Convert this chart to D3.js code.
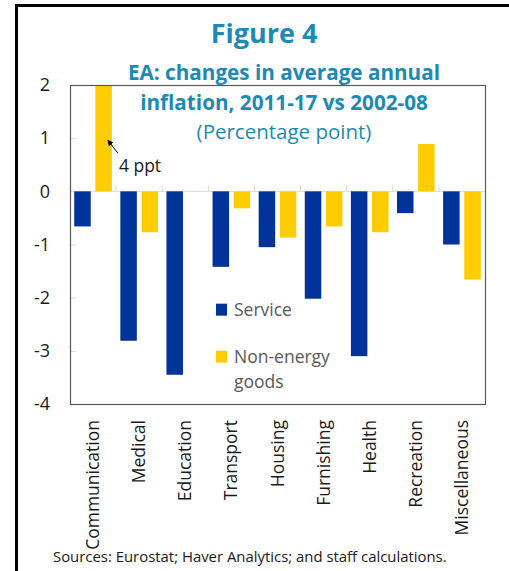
<!DOCTYPE html>
<html>
<head>
<meta charset="utf-8">
<script src="https://cdn.jsdelivr.net/npm/d3@7"></script>
<style>
  body { margin: 0; background: #fff; }
  svg { display: block; font-family: "Open Sans", sans-serif; }
</style>
</head>
<body>
<div id="chart"></div>
<script>
// data
var categories = ["Communication", "Medical", "Education", "Transport", "Housing",
                  "Furnishing", "Health", "Recreation", "Miscellaneous"];
var serviceValues = [-0.66, -2.81, -3.45, -1.42, -1.05, -2.02, -3.10, -0.41, -1.00];
var goodsValues = [4.0, -0.77, 0, -0.32, -0.87, -0.66, -0.77, 0.89, -1.66];
var seriesNames = ["Service", "Non-energy goods"];
var seriesColors = ["#003399", "#ffcc00"];
var yTicks = [2, 1, 0, -1, -2, -3, -4];

var svgWidth = 509;
var svgHeight = 571;

// plot frame
var margin = { top: 85, right: 24, bottom: 167, left: 70 };
var width = svgWidth - margin.left - margin.right;
var height = svgHeight - margin.top - margin.bottom;

var svg = d3.select("#chart")
  .append("svg")
  .attr("width", svgWidth)
  .attr("height", svgHeight);

// outer black frame
svg.append("rect")
  .attr("x", 16.5)
  .attr("y", 5.5)
  .attr("width", 600)
  .attr("height", 600)
  .attr("fill", "none")
  .attr("stroke", "#000")
  .attr("stroke-width", 3);

var chartGroup = svg.append("g")
  .attr("transform", `translate(${margin.left}, ${margin.top})`);

var x0 = d3.scaleBand()
  .domain(categories)
  .range([0, width]);

var x1 = d3.scaleBand()
  .domain(seriesNames)
  .range([0, x0.bandwidth()])
  .paddingInner(0.22)
  .paddingOuter(0.2);

var y = d3.scaleLinear()
  .domain([-4, 2])
  .range([height, 0])
  .clamp(true);

// zero line
chartGroup.append("line")
  .attr("x1", 0).attr("x2", width)
  .attr("y1", y(0)).attr("y2", y(0))
  .attr("stroke", "#d9d9d9");

// category separator ticks on the zero line
chartGroup.selectAll(".catTick")
  .data(categories.slice(1))
  .enter()
  .append("line")
  .attr("class", "catTick")
  .attr("x1", d => x0(d)).attr("x2", d => x0(d))
  .attr("y1", y(0)).attr("y2", y(0) - 6)
  .attr("stroke", "#d9d9d9");

// y axis, ticks pointing inward
var leftAxis = d3.axisLeft(y)
  .tickValues(yTicks)
  .tickSize(-6)
  .tickPadding(20)
  .tickFormat(d => String(d));

var yAxis = chartGroup.append("g").call(leftAxis);
yAxis.select(".domain").remove();
yAxis.selectAll("line").attr("stroke", "#d9d9d9");
yAxis.selectAll("text")
  .attr("fill", "#1a1a1a")
  .style("font-size", "18px")
  .style("font-family", "'Open Sans', sans-serif");

// bars
var rows = categories.map((c, i) => ({ cat: c, values: [serviceValues[i], goodsValues[i]] }));

var groups = chartGroup.selectAll(".grp")
  .data(rows)
  .enter()
  .append("g")
  .attr("class", "grp")
  .attr("transform", d => `translate(${x0(d.cat)},0)`);

groups.selectAll("rect")
  .data(d => d.values.map((v, j) => ({ v: v, s: seriesNames[j], c: seriesColors[j] })))
  .enter()
  .append("rect")
  .attr("x", d => x1(d.s))
  .attr("width", x1.bandwidth())
  .attr("y", d => Math.min(y(d.v), y(0)))
  .attr("height", d => Math.abs(y(d.v) - y(0)))
  .attr("fill", d => d.c);

// plot border
chartGroup.append("rect")
  .attr("x", 0.5).attr("y", 0.5)
  .attr("width", width).attr("height", height)
  .attr("fill", "none")
  .attr("stroke", "#595959")
  .attr("stroke-width", 1.2);

// x category labels, rotated
chartGroup.selectAll(".catLabel")
  .data(categories)
  .enter()
  .append("text")
  .attr("class", "catLabel")
  .attr("transform", d => `translate(${x0(d) + x0.bandwidth() / 2 + 6}, ${height + 16}) rotate(-90)`)
  .attr("text-anchor", "end")
  .style("font-size", "17.5px")
  .attr("fill", "#1a1a1a")
  .text(d => d);

// annotation for the clipped bar
var annX = x0("Communication") + x1("Non-energy goods") + x1.bandwidth();
var defs = svg.append("defs");
defs.append("marker")
  .attr("id", "arrow")
  .attr("viewBox", "0 0 10 10")
  .attr("refX", 9).attr("refY", 5)
  .attr("markerWidth", 6).attr("markerHeight", 6)
  .attr("orient", "auto")
  .append("path")
  .attr("d", "M0,0 L10,5 L0,10 z")
  .attr("fill", "#000");

chartGroup.append("line")
  .attr("x1", annX + 6).attr("y1", y(1) + 15)
  .attr("x2", annX - 4).attr("y2", y(1) + 2)
  .attr("stroke", "#000")
  .attr("stroke-width", 1)
  .attr("marker-end", "url(#arrow)");

chartGroup.append("text")
  .attr("x", annX + 7)
  .attr("y", y(0) - 19)
  .style("font-size", "17.5px")
  .attr("fill", "#1a1a1a")
  .text("4 ppt");

// legend
var legend = chartGroup.append("g")
  .attr("transform", `translate(${146}, ${y(-2) + 6})`);

legend.append("rect")
  .attr("x", 0).attr("y", 0).attr("width", 11).attr("height", 12)
  .attr("fill", seriesColors[0]);
legend.append("text")
  .attr("x", 18).attr("y", 12)
  .style("font-size", "17.5px")
  .attr("fill", "#595959")
  .text("Service");

legend.append("rect")
  .attr("x", 0).attr("y", 47).attr("width", 11).attr("height", 12)
  .attr("fill", seriesColors[1]);
legend.append("text")
  .attr("x", 18).attr("y", 59)
  .style("font-size", "17.5px")
  .attr("fill", "#595959")
  .text("Non-energy");
legend.append("text")
  .attr("x", 18).attr("y", 84)
  .style("font-size", "17.5px")
  .attr("fill", "#595959")
  .text("goods");

// titles
var titleColor = "#1c8ab5";
svg.append("text")
  .attr("x", 264).attr("y", 43)
  .attr("text-anchor", "middle")
  .style("font-size", "27px")
  .style("font-weight", "bold")
  .attr("fill", titleColor)
  .text("Figure 4");

svg.append("text")
  .attr("x", 284).attr("y", 80)
  .attr("text-anchor", "middle")
  .style("font-size", "20.7px")
  .style("font-weight", "bold")
  .attr("fill", titleColor)
  .text("EA: changes in average annual");

svg.append("text")
  .attr("x", 284).attr("y", 110)
  .attr("text-anchor", "middle")
  .style("font-size", "20.7px")
  .style("font-weight", "bold")
  .attr("fill", titleColor)
  .text("inflation, 2011-17 vs 2002-08");

svg.append("text")
  .attr("x", 284).attr("y", 139)
  .attr("text-anchor", "middle")
  .style("font-size", "20.5px")
  .attr("fill", titleColor)
  .text("(Percentage point)");

// source note
svg.append("text")
  .attr("x", 53).attr("y", 562)
  .style("font-size", "14.9px")
  .attr("fill", "#1a1a1a")
  .text("Sources: Eurostat; Haver Analytics; and staff calculations.");
</script>
</body>
</html>
